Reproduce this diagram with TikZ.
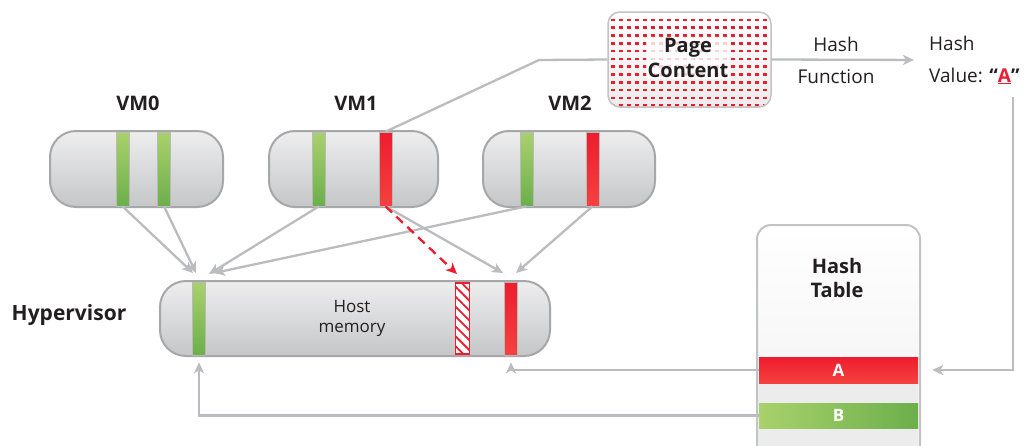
\documentclass[tikz,border=0pt]{standalone}
\usepackage{fontspec}
\setmainfont{Open Sans}
\usepackage{tikz}
\usetikzlibrary{arrows.meta,patterns.meta}

\definecolor{capline}{HTML}{A6A7A9}
\definecolor{captop}{HTML}{EEEEEF}
\definecolor{capbot}{HTML}{C5C6C8}
\definecolor{linkgray}{HTML}{BBBCBF}
\definecolor{pgred}{HTML}{EE1C2E}
\definecolor{pgredlt}{HTML}{F4423F}
\definecolor{pggreenlt}{HTML}{A9D16C}
\definecolor{pggreen}{HTML}{6CAF4B}
\definecolor{tabline}{HTML}{C2C3C5}
\definecolor{tabgray}{HTML}{ECECED}
\definecolor{txt}{HTML}{231F20}

\tikzset{
  capsule/.style={rectangle, rounded corners=26pt, draw=capline, line width=2pt,
    top color=captop, bottom color=capbot, inner sep=0pt},
  grbar/.style={rectangle, inner sep=0pt, minimum width=13pt, minimum height=74pt,
    draw=gray!55, line width=0.6pt, top color=pggreenlt, bottom color=pggreen},
  rdbar/.style={rectangle, inner sep=0pt, minimum width=13pt, minimum height=74pt,
    draw=gray!55, line width=0.6pt, top color=pgred, bottom color=pgredlt},
  hatchbar/.style={rectangle, inner sep=0pt, minimum width=14pt, minimum height=71pt,
    draw=pgred, line width=1.3pt, fill=white,
    postaction={pattern={Lines[angle=-45,distance=7pt,line width=1.8pt]}, pattern color=pgred}},
  link/.style={draw=linkgray, line width=2.3pt, -{Stealth[length=11pt,width=10pt,inset=3pt]}},
  plain/.style={draw=linkgray, line width=2.3pt},
  hit/.style={draw=pgred, line width=2.3pt, dash pattern=on 9pt off 6pt,
    -{Stealth[length=11pt,width=10pt,inset=3pt]}},
  bigbold/.style={font=\bfseries\fontsize{20}{25}\selectfont, text=txt, align=center, inner sep=0pt},
  normal/.style={font=\fontsize{19}{32}\selectfont, text=txt, inner sep=0pt},
  rowlab/.style={rectangle, inner sep=0pt, minimum width=159pt, text=white,
    font=\bfseries\fontsize{17}{20}\selectfont},
}

\begin{document}
\begin{tikzpicture}[x=1pt,y=-1pt]
\clip (0,0) rectangle (1032,445);
\fill[white] (0,0) rectangle (1032,445);
%page content
\node[rectangle, rounded corners=12pt, draw=tabline, line width=1.5pt, top color=white,
  bottom color=tabgray, minimum width=163pt, minimum height=95pt] (pagebox) at (689.5,59.5) {};
\begin{scope}
\clip[rounded corners=11pt] (609,13) rectangle (770,106);
\foreach \i in {0,...,19}
  \foreach \j in {0,...,12}
    \fill[pgred] (611.2+8*\i,10.7+7.8*\j) rectangle ++(3.6,2.6);
\end{scope}
\node[bigbold, fill=white, fill opacity=0.8, text opacity=1, inner sep=1.5pt,
  rounded corners=3pt] (pagetxt) at (688,58) {Page\\Content};
\node[normal, align=center] (hashfn) at (836,60) {Hash\\Function};
\node[normal, align=left, anchor=west] (hashval) at (929,60)
  {Hash\\Value: \textbf{“\textcolor{pgred}{\underline{A}}”}};
\coordinate (aunder) at (1013,97);
%vms
\node[bigbold] (vm0lab) at (138,103) {VM0};
\node[bigbold] (vm1lab) at (356,103) {VM1};
\node[bigbold] (vm2lab) at (570,103) {VM2};
\node[capsule, minimum width=173pt, minimum height=76pt] (vm0) at (136.5,169) {};
\node[capsule, minimum width=169pt, minimum height=76pt] (vm1) at (353.5,169) {};
\node[capsule, minimum width=172pt, minimum height=76pt] (vm2) at (569,169) {};
\node[grbar] (vm0a) at (122.5,169) {};
\node[grbar] (vm0b) at (164,169) {};
\node[grbar] (vm1g) at (319,169) {};
\node[rdbar] (vm1r) at (385.5,169) {};
\node[grbar] (vm2g) at (526.5,169) {};
\node[rdbar] (vm2r) at (592.5,169) {};
%hypervisor
\node[bigbold, font=\bfseries\fontsize{21}{25}\selectfont] (hyper) at (69,315) {Hypervisor};
\node[capsule, minimum width=390pt, minimum height=75pt] (host) at (355,318.5) {};
\node[grbar, minimum height=73pt] (hostg) at (199,318.5) {};
\node[hatchbar] (hosth) at (462.5,318.5) {};
\node[rdbar, minimum height=73pt] (hostr) at (511,318.5) {};
\node[font=\fontsize{17}{20}\selectfont, text=txt, align=center, inner sep=0pt] (hosttxt)
  at (352,318) {Host\\memory};
%hash table
\node[rectangle, rounded corners=14pt, draw=tabline, line width=2pt, top color=white,
  bottom color=tabgray!80, minimum width=163pt, minimum height=250pt, anchor=north]
  (hashtab) at (838.5,224) {};
\fill[tabgray] (759,357) rectangle (918,470);
\node[bigbold, font=\bfseries\fontsize{20}{24}\selectfont] (tabtxt) at (837,278) {Hash\\Table};
\node[rowlab, minimum height=26pt, top color=pgred, bottom color=pgredlt] (rowA) at (838.5,370) {A};
\node[rowlab, minimum height=25pt, left color=pggreenlt, right color=pggreen] (rowB) at (838.5,415.5) {B};
%targets on the host memory
\coordinate (in0a) at (193,273);
\coordinate (in0b) at (196,273);
\coordinate (in1g) at (209,274);
\coordinate (in2g) at (214,273);
\coordinate (in1r) at (503,273);
\coordinate (in2r) at (516,273);
\coordinate (inh) at (457,274);
%arrows
\draw[link] (vm0a.south) -- (in0a);
\draw[link] (vm0b.south) -- (in0b);
\draw[link] (vm1g.south) -- (in1g);
\draw[link] (vm2g.south) -- (in2g);
\draw[link] (vm1r.south) -- (in1r);
\draw[link] (vm2r.south) -- (in2r);
\draw[hit] (vm1r.south) -- (inh);
\draw[plain] (vm1r.north) -- (539,60) -- (pagebox.west);
\draw[link, shorten >=15pt] (pagebox.east) -- (hashval.west);
\draw[link, shorten >=14pt] (aunder) |- (rowA.east);
\draw[link, shorten >=7pt] (rowA.west) -| (hostr.south);
\draw[link, shorten >=7pt] (rowB.west) -| (hostg.south);
\end{tikzpicture}
\end{document}
